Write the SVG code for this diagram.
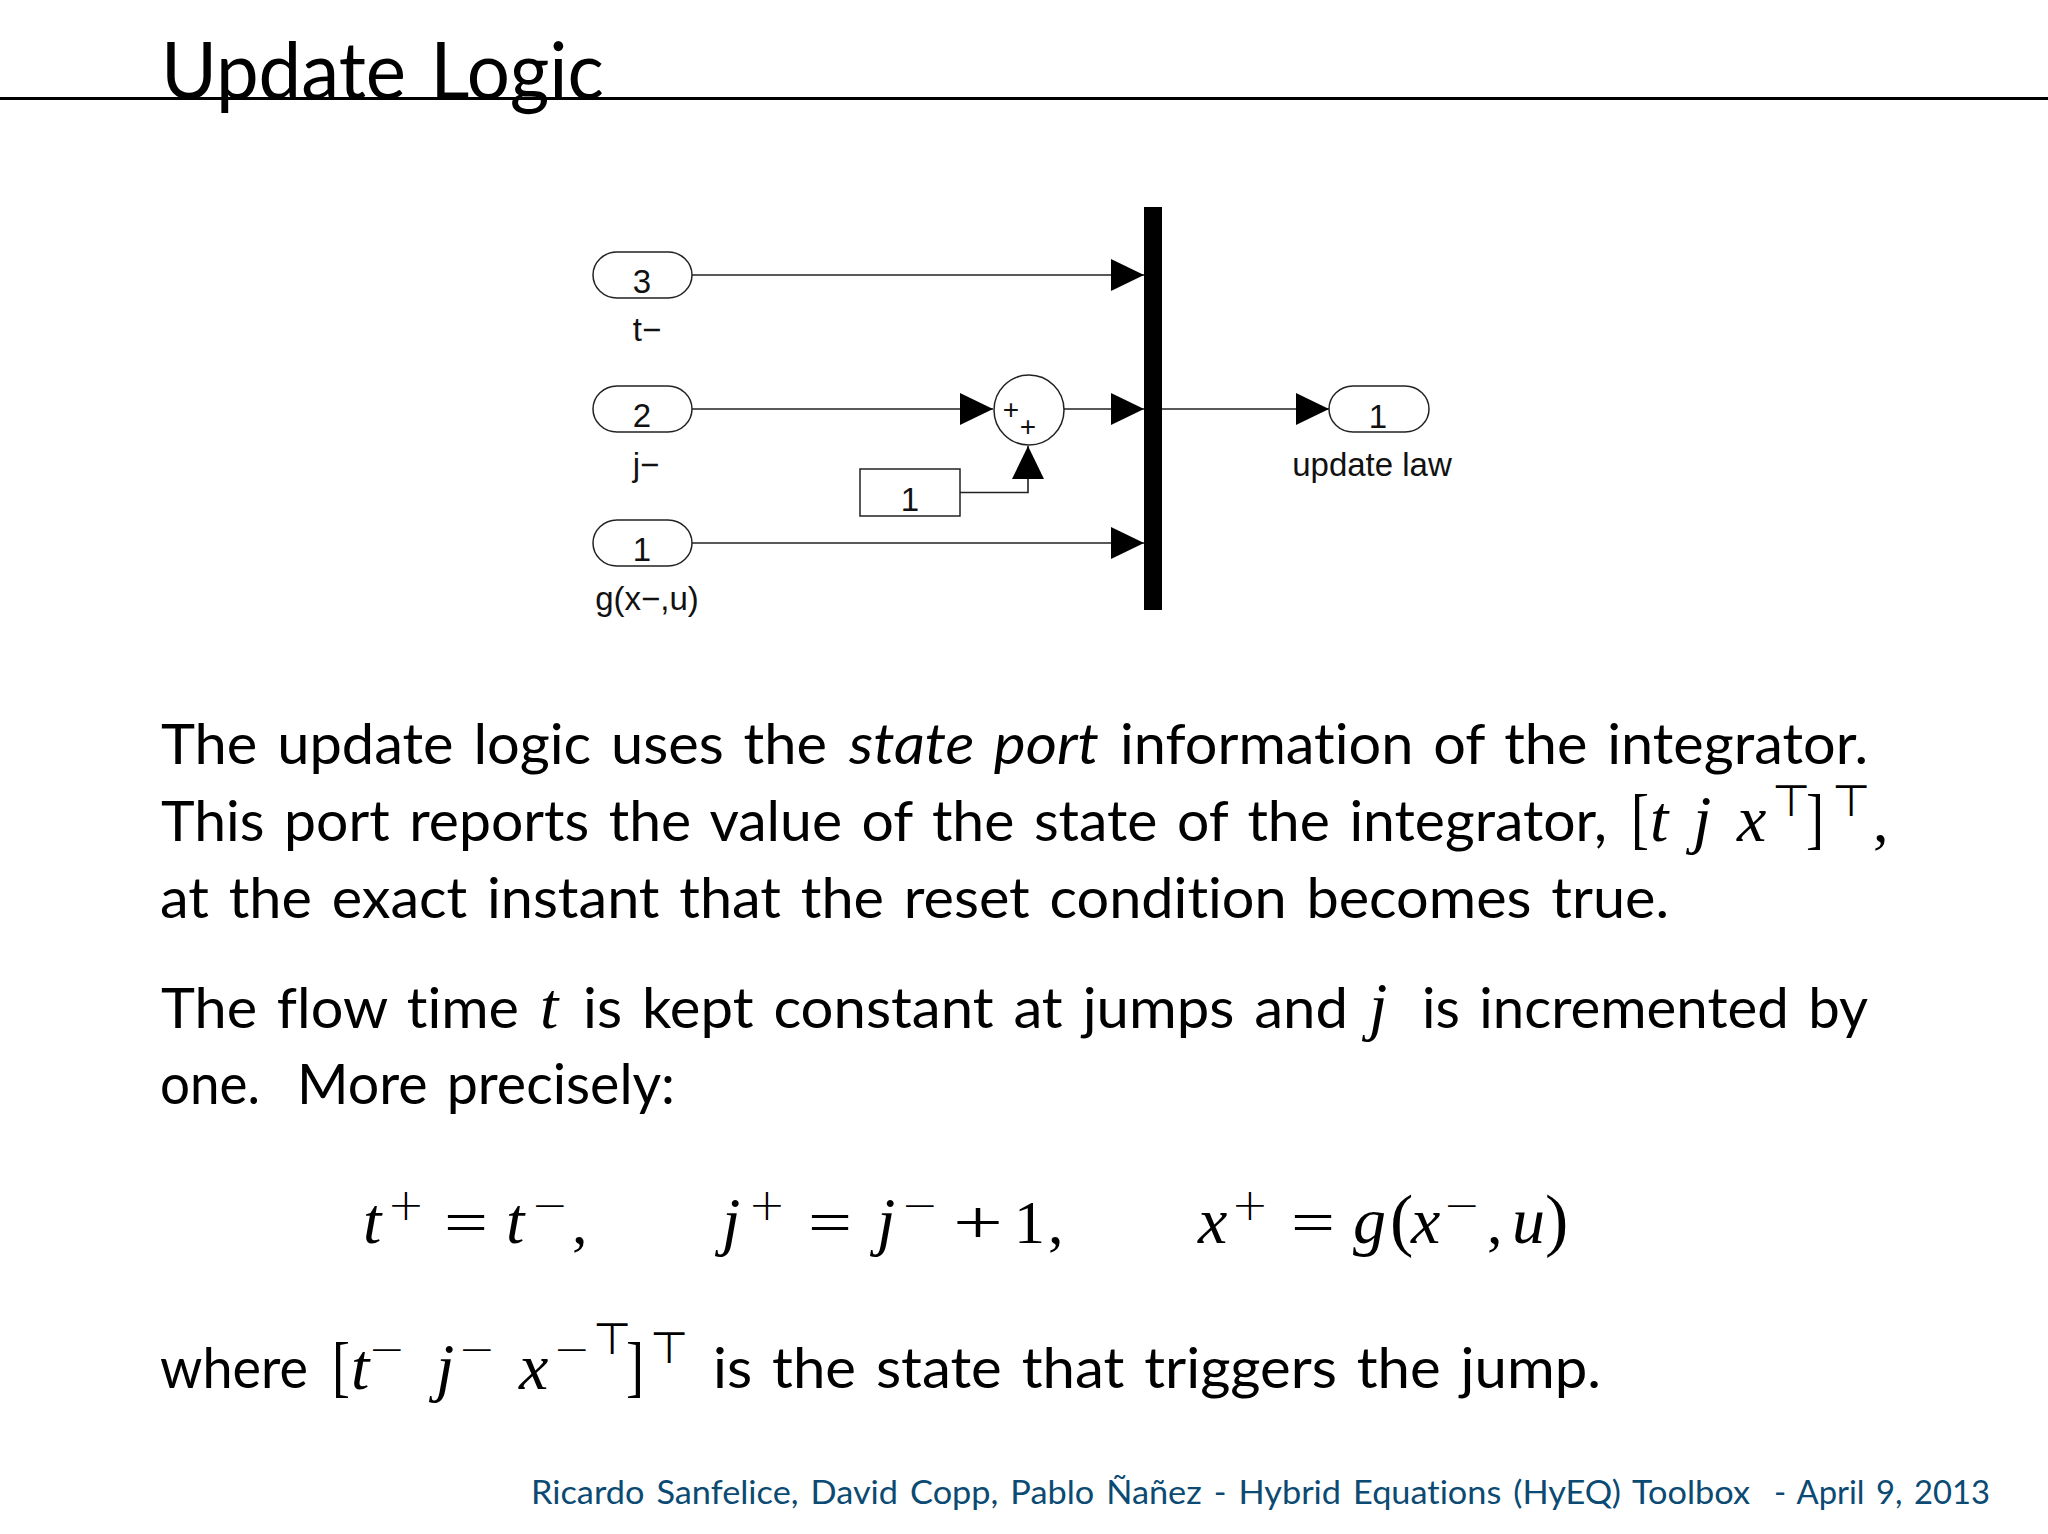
<svg xmlns="http://www.w3.org/2000/svg" width="2048" height="1534" viewBox="0 0 2048 1534">
<style>
.s{font-family:"Lato","Open Sans",sans-serif;font-size:57px;fill:#000;word-spacing:5px;font-variant-ligatures:none}
.m{font-family:"Liberation Serif",serif;font-style:italic;font-size:66px;fill:#000}
.r{font-family:"Liberation Serif",serif;font-size:62px;fill:#000}
.sup{font-family:"DejaVu Sans",sans-serif;font-size:44px;fill:#000;text-anchor:middle;font-weight:200}
.b{font-family:"Liberation Sans",Arial,sans-serif;font-size:33px;fill:#111}
.c{text-anchor:middle}
.n{fill:#fff;stroke:#222;stroke-width:1.5}
.w{fill:none;stroke:#222;stroke-width:1.6}
.f{font-family:Lato,'Open Sans',sans-serif;font-size:32px;fill:#0b4a72;word-spacing:3px;font-variant-ligatures:none}
</style>
<defs>
<marker id="a" markerUnits="userSpaceOnUse" markerWidth="34" markerHeight="34" refX="33" refY="17" orient="auto"><path d="M0,1L33,17L0,33z" fill="#000"/></marker>
</defs>
<rect width="2048" height="1534" fill="#fff"/>
<rect id="rule" x="0" y="97" width="2048" height="3" fill="#000"/>
<text id="title" x="161" y="99" textLength="443" lengthAdjust="spacingAndGlyphs" style="font-family:Lato,'Open Sans',sans-serif;font-size:79px;fill:#000;word-spacing:5px;font-variant-ligatures:none">Update Logic</text>

<g id="connectors">
<path class="w" marker-end="url(#a)" d="M692,275H1144"/>
<path class="w" marker-end="url(#a)" d="M692,409H993"/>
<path class="w" marker-end="url(#a)" d="M1064,409H1144"/>
<path class="w" marker-end="url(#a)" d="M692,543H1144"/>
<path class="w" marker-end="url(#a)" d="M1161,409H1329"/>
<path class="w" marker-end="url(#a)" d="M960,492.500H1028V446"/>
</g>
<g id="port3"><rect class="n" x="593" y="252" width="99" height="46" rx="24" ry="23"/><text class="b c" x="642" y="293">3</text><text class="b c" x="647" y="341">t−</text></g>
<g id="port2"><rect class="n" x="593" y="386" width="99" height="46" rx="24" ry="23"/><text class="b c" x="642" y="427">2</text><text class="b c" x="646" y="476">j−</text></g>
<g id="port1"><rect class="n" x="593" y="520" width="99" height="46" rx="24" ry="23"/><text class="b c" x="642" y="561">1</text><text class="b c" x="647" y="610">g(x−,u)</text></g>
<g id="sum"><circle class="n" cx="1029" cy="410" r="35"/><text x="1011" y="419" class="b c" style="font-size:28px">+</text><text x="1028" y="436" class="b c" style="font-size:28px">+</text></g>
<g id="constant"><rect class="n" x="860" y="469" width="100" height="47"/><text class="b c" x="910" y="511">1</text></g>
<g id="mux"><rect x="1144" y="207" width="18" height="403" fill="#000"/></g>
<g id="outport"><rect class="n" x="1329" y="386" width="100" height="46" rx="24" ry="23"/><text class="b c" x="1378" y="428">1</text><text class="b c" x="1372" y="476">update law</text></g>

<g id="para1">
<text class="s" x="161" y="764" textLength="666" lengthAdjust="spacingAndGlyphs">The update logic uses the</text>
<text class="s" x="849" y="764" textLength="250" lengthAdjust="spacingAndGlyphs" font-style="italic">state port</text>
<text class="s" x="1120" y="764" textLength="748" lengthAdjust="spacingAndGlyphs">information of the integrator.</text>
<text class="s" x="161" y="841" textLength="1446" lengthAdjust="spacingAndGlyphs">This port reports the value of the state of the integrator,</text>
<text class="r" x="1631" y="841" textLength="18" lengthAdjust="spacingAndGlyphs" style="font-size:68px">[</text>
<text class="m" x="1650" y="841">t</text><text class="m" x="1693" y="841">j</text><text class="m" x="1737" y="841">x</text>
<text class="sup" x="1791" y="816">⊤</text>
<text class="r" x="1806" y="841" textLength="18" lengthAdjust="spacingAndGlyphs" style="font-size:68px">]</text>
<text class="sup" x="1851" y="816">⊤</text>
<text class="r" x="1873" y="841">,</text>
<text class="s" x="160" y="918" textLength="1509" lengthAdjust="spacingAndGlyphs">at the exact instant that the reset condition becomes true.</text>
</g>
<g id="para2">
<text class="s" x="161" y="1028" textLength="358" lengthAdjust="spacingAndGlyphs">The flow time</text>
<text class="m" x="540" y="1028">t</text>
<text class="s" x="583" y="1028" textLength="765" lengthAdjust="spacingAndGlyphs">is kept constant at jumps and</text>
<text class="m" x="1369" y="1028">j</text>
<text class="s" x="1422" y="1028" textLength="446" lengthAdjust="spacingAndGlyphs">is incremented by</text>
<text class="s" x="160" y="1104" textLength="100" lengthAdjust="spacingAndGlyphs">one.</text>
<text class="s" x="297" y="1104" textLength="378" lengthAdjust="spacingAndGlyphs">More precisely:</text>
</g>
<g id="equations">
<text class="m" x="363" y="1243">t</text><text class="sup" x="406" y="1220">+</text><text class="r" x="444" y="1243" textLength="44" lengthAdjust="spacingAndGlyphs">=</text><text class="m" x="506" y="1243">t</text><text class="sup" x="550" y="1220">−</text><text class="r" x="572" y="1243">,</text>
<text class="m" x="722" y="1243">j</text><text class="sup" x="767" y="1220">+</text><text class="r" x="808" y="1243" textLength="44" lengthAdjust="spacingAndGlyphs">=</text><text class="m" x="877" y="1243">j</text><text class="sup" x="920" y="1220">−</text><text class="r" x="953" y="1243" textLength="50" lengthAdjust="spacingAndGlyphs">+</text><text class="r" x="1014" y="1243">1</text><text class="r" x="1048" y="1243">,</text>
<text class="m" x="1198" y="1243">x</text><text class="sup" x="1250" y="1220">+</text><text class="r" x="1291" y="1243" textLength="44" lengthAdjust="spacingAndGlyphs">=</text><text class="m" x="1353" y="1243">g</text><text class="r" x="1390" y="1243" style="font-size:70px">(</text><text class="m" x="1411" y="1243">x</text><text class="sup" x="1462" y="1220">−</text><text class="r" x="1487" y="1243">,</text><text class="m" x="1512" y="1243">u</text><text class="r" x="1545" y="1243" style="font-size:70px">)</text>
</g>
<g id="para3">
<text class="s" x="160" y="1388" textLength="148" lengthAdjust="spacingAndGlyphs">where</text>
<text class="r" x="332" y="1389" textLength="18" lengthAdjust="spacingAndGlyphs" style="font-size:68px">[</text>
<text class="m" x="351" y="1389">t</text><text class="sup" x="387" y="1364">−</text>
<text class="m" x="436" y="1389">j</text><text class="sup" x="477" y="1364">−</text>
<text class="m" x="519" y="1389">x</text><text class="sup" x="572" y="1364">−</text>
<text class="sup" x="612" y="1354">⊤</text>
<text class="r" x="626" y="1389" textLength="18" lengthAdjust="spacingAndGlyphs" style="font-size:68px">]</text>
<text class="sup" x="669" y="1363">⊤</text>
<text class="s" x="713" y="1388" textLength="888" lengthAdjust="spacingAndGlyphs">is the state that triggers the jump.</text>
</g>
<g id="footer">
<text class="f" x="531" y="1504" textLength="1219" lengthAdjust="spacingAndGlyphs">Ricardo Sanfelice, David Copp, Pablo Ñañez - Hybrid Equations (HyEQ) Toolbox</text>
<text class="f" x="1774" y="1504" textLength="216" lengthAdjust="spacingAndGlyphs">- April 9, 2013</text>
</g>
</svg>
